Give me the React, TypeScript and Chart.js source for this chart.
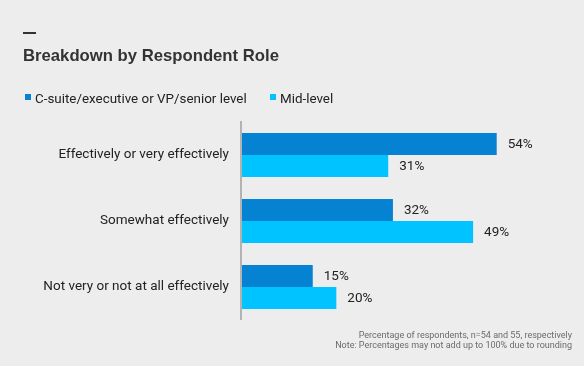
import React, { useEffect, useRef } from "react";
import { Chart, registerables } from "chart.js";

Chart.register(...registerables);

const categories = [
  "Effectively or very effectively",
  "Somewhat effectively",
  "Not very or not at all effectively",
];
const seniorValues = [54, 32, 15];
const midValues = [31, 49, 20];
const seriesNames = ["C-suite/executive or VP/senior level", "Mid-level"];
const seriesColors = ["#0583D2", "#00C3FF"];
const titleText = "Breakdown by Respondent Role";
const footnotes = [
  "Percentage of respondents, n=54 and 55, respectively",
  "Note: Percentages may not add up to 100% due to rounding",
];

const BG = "#EDEDED";

const decorPlugin = {
  id: "decor",
  beforeDraw(chart: any) {
    const { ctx, width, height } = chart;
    ctx.save();
    ctx.fillStyle = BG;
    ctx.fillRect(0, 0, width, height);
    // dash above title
    ctx.fillStyle = "#333333";
    ctx.fillRect(23, 32, 13, 2);
    // title
    ctx.font = "bold 16.7px 'Liberation Sans', Arial, sans-serif";
    ctx.textAlign = "left";
    ctx.textBaseline = "alphabetic";
    ctx.fillStyle = "#333333";
    ctx.fillText(titleText, 23, 61);
    // legend
    ctx.font = "13.4px Roboto, sans-serif";
    let x = 25;
    seriesNames.forEach((name, i) => {
      ctx.fillStyle = seriesColors[i];
      ctx.fillRect(x, 94, 6, 6);
      ctx.fillStyle = "#222222";
      ctx.fillText(name, x + 10, 103);
      x = 270;
    });
    // footnotes
    ctx.font = "9px Roboto, sans-serif";
    ctx.fillStyle = "#6b6b6b";
    ctx.textAlign = "right";
    ctx.textBaseline = "middle";
    footnotes.forEach((t, i) => {
      ctx.fillText(t, 572, 336 + i * 9.5);
    });
    ctx.restore();
  },
  afterDatasetsDraw(chart: any) {
    const { ctx, chartArea } = chart;
    ctx.save();
    // axis line
    ctx.fillStyle = "#B3B3B3";
    ctx.fillRect(chartArea.left - 2, chartArea.top - 1, 2, chartArea.bottom - chartArea.top + 1);
    // value labels
    ctx.font = "13.5px Roboto, sans-serif";
    ctx.fillStyle = "#222222";
    ctx.textAlign = "left";
    ctx.textBaseline = "middle";
    chart.data.datasets.forEach((ds: any, di: number) => {
      const meta = chart.getDatasetMeta(di);
      meta.data.forEach((bar: any, i: number) => {
        ctx.fillText(ds.data[i] + "%", bar.x + 11, bar.y + 1);
      });
    });
    ctx.restore();
  },
};

export default function App() {
  const ref = useRef<HTMLCanvasElement>(null);
  useEffect(() => {
    document.body.style.margin = "0";
    document.body.style.background = BG;
    const chart = new Chart(ref.current!, {
      type: "bar",
      data: {
        labels: categories,
        datasets: [
          {
            label: seriesNames[0],
            data: seniorValues,
            backgroundColor: seriesColors[0],
            categoryPercentage: 2 / 3,
            barPercentage: 1,
          },
          {
            label: seriesNames[1],
            data: midValues,
            backgroundColor: seriesColors[1],
            categoryPercentage: 2 / 3,
            barPercentage: 1,
          },
        ],
      },
      options: {
        indexAxis: "y",
        animation: false,
        responsive: false,
        layout: { padding: { left: 0, top: 122, bottom: 46, right: 59 } },
        plugins: {
          legend: { display: false },
          tooltip: { enabled: false },
          title: { display: false },
        },
        scales: {
          x: { display: false, min: 0, max: 60 },
          y: {
            grid: { display: false, drawTicks: false },
            border: { display: false },
            ticks: {
              color: "#222222",
              font: { family: "Roboto, sans-serif", size: 13.5 },
              padding: 13,
            },
            afterFit(scale: any) {
              scale.width = 242;
            },
          },
        },
      },
      plugins: [decorPlugin],
    });
    return () => chart.destroy();
  }, []);
  return (
    <div style={{ width: 584, height: 366, background: BG }}>
      <canvas ref={ref} width={584} height={366} style={{ display: "block" }} />
    </div>
  );
}
